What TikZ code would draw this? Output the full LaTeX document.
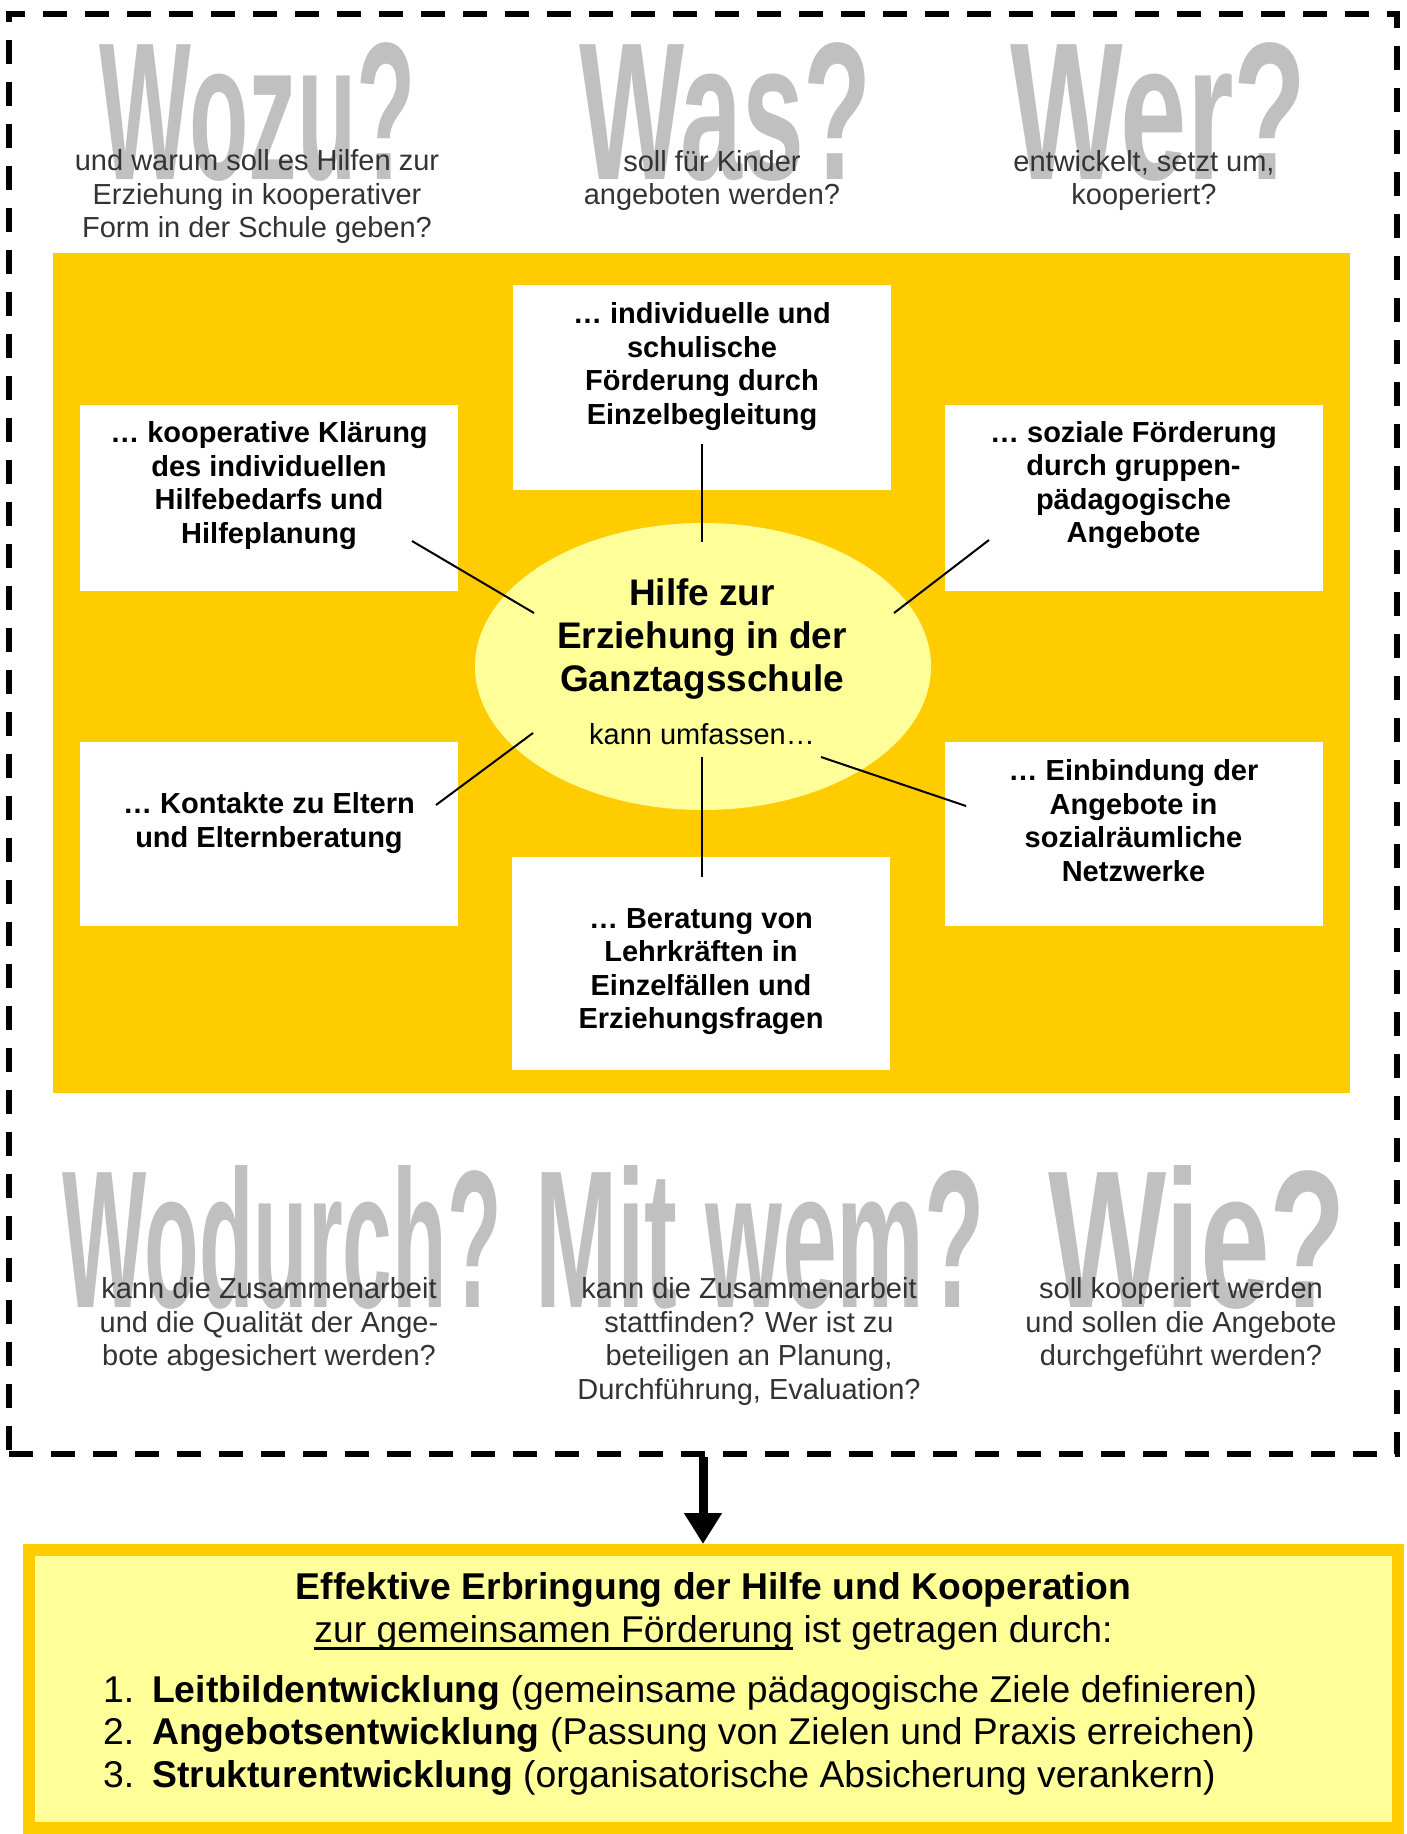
\documentclass[tikz,border=0pt]{standalone}
\usepackage{fontspec}
\setmainfont{Liberation Sans}
\usetikzlibrary{shapes.geometric,arrows.meta}

\definecolor{panelorange}{HTML}{FFCC00}
\definecolor{paleyellow}{HTML}{FFFF99}
\definecolor{watermark}{HTML}{C0C0C0}
\definecolor{questiontext}{HTML}{333333}

% underline set low, so that descenders cross the rule
\newcommand\ulword[1]{\setbox0=\hbox{#1}\rlap{\copy0}\rule[-8pt]{\wd0}{2.6pt}}

\begin{document}
\begin{tikzpicture}[x=1pt,y=-1pt,
  bigword/.style={anchor=base west, inner sep=0pt, text=watermark,
    font=\fontsize{196}{196}\selectfont\bfseries},
  question/.style={align=center, inner sep=0pt, text=questiontext,
    font=\fontsize{29}{33.5}\selectfont},
  whitebox/.style={fill=white, inner sep=0pt, minimum width=378pt},
  boxtext/.style={align=center, inner sep=0pt,
    font=\fontsize{29}{33.5}\selectfont\bfseries},
  spoke/.style={line width=2pt},
  listitem/.style={anchor=base west, inner sep=0pt,
    font=\fontsize{37.3}{43}\selectfont},
]
\useasboundingbox (0,0) rectangle (1407,1834);

% dashed frame around the question field
\node[draw, line width=6pt, dash pattern=on 24pt off 18pt, inner sep=0pt,
  minimum width=1388pt, minimum height=1440pt] (frame) at (703,733.5) {};

% large grey question words
\node[bigword] (w-wozu) at (99,179) {\scalebox{0.496}[1]{Wozu?}};
\node[bigword] (w-was) at (579,179) {\scalebox{0.568}[1]{Was?}};
\node[bigword] (w-wer) at (1010,179) {\scalebox{0.609}[1]{Wer?}};
\node[bigword] (w-wodurch) at (62,1307) {\scalebox{0.455}[1]{Wodurch?}};
\node[bigword] (w-mitwem) at (535,1307) {\scalebox{0.504}[1]{Mit wem?}};
\node[bigword] (w-wie) at (1048,1307) {\scalebox{0.639}[1]{Wie?}};

% explanatory questions
\node[question] (q-wozu) at (257,196.5) {und warum soll es Hilfen zur\\Erziehung in kooperativer\\Form in der Schule geben?};
\node[question] (q-was) at (712,180.5) {soll für Kinder\\angeboten werden?};
\node[question] (q-wer) at (1144,180.5) {entwickelt, setzt um,\\kooperiert?};
\node[question] (q-wodurch) at (269,1324.5) {kann die Zusammenarbeit\\und die Qualität der Ange-\\bote abgesichert werden?};
\node[question] (q-mitwem) at (749,1341.5) {kann die Zusammenarbeit\\stattfinden? Wer ist zu\\beteiligen an Planung,\\Durchführung, Evaluation?};
\node[question] (q-wie) at (1181,1324.5) {soll kooperiert werden\\und sollen die Angebote\\durchgeführt werden?};

% orange panel with the six offers
\node[fill=panelorange, inner sep=0pt, minimum width=1297pt, minimum height=840pt] (panel) at (701.5,673) {};

\node[whitebox, minimum height=205pt] (b-top) at (701.5,387.5) {};
\node[whitebox, minimum height=186pt] (b-ul) at (269,498) {};
\node[whitebox, minimum height=186pt] (b-ur) at (1133.5,498) {};
\node[whitebox, minimum height=184pt] (b-ll) at (268.5,834) {};
\node[whitebox, minimum height=184pt] (b-lr) at (1134,834) {};
\node[whitebox, minimum height=213pt] (b-bot) at (701,963.5) {};

\node[boxtext] (t-top) at (702,366.5) {… individuelle und\\schulische\\Förderung durch\\Einzelbegleitung};
\node[boxtext] (t-ul) at (269,485.5) {… kooperative Klärung\\des individuellen\\Hilfebedarfs und\\Hilfeplanung};
\node[boxtext] (t-ur) at (1133.5,485) {… soziale Förderung\\durch gruppen-\\pädagogische\\Angebote};
\node[boxtext] (t-ll) at (269,823) {… Kontakte zu Eltern\\und Elternberatung};
\node[boxtext] (t-lr) at (1133.5,820.5) {… Einbindung der\\Angebote in\\sozialräumliche\\Netzwerke};
\node[boxtext] (t-bot) at (701,971.5) {… Beratung von\\Lehrkräften in\\Einzelfällen und\\Erziehungsfragen};

% central ellipse
\node[ellipse, fill=paleyellow, inner sep=0pt, minimum width=456pt, minimum height=287pt] (hub) at (703,666.5) {};
\node[align=center, inner sep=0pt, font=\fontsize{37}{43}\selectfont\bfseries] (hub-title) at (702,639.5) {Hilfe zur\\Erziehung in der\\Ganztagsschule};
\node[inner sep=0pt, font=\fontsize{29}{33.5}\selectfont] (hub-sub) at (702,734) {kann umfassen…};

% spokes from the offers into the ellipse
\coordinate (s-top-a) at (702,444);  \coordinate (s-top-b) at (702,542);
\coordinate (s-ul-a) at (412,541);   \coordinate (s-ul-b) at (534,613);
\coordinate (s-ur-a) at (989,540);   \coordinate (s-ur-b) at (894,613);
\coordinate (s-ll-a) at (436,805);   \coordinate (s-ll-b) at (533,733);
\coordinate (s-lr-a) at (966,806);   \coordinate (s-lr-b) at (821,757);
\coordinate (s-bot-a) at (702,877);  \coordinate (s-bot-b) at (702,757);
\draw[spoke] (s-top-a) -- (s-top-b);
\draw[spoke] (s-ul-a) -- (s-ul-b);
\draw[spoke] (s-ur-a) -- (s-ur-b);
\draw[spoke] (s-ll-a) -- (s-ll-b);
\draw[spoke] (s-lr-a) -- (s-lr-b);
\draw[spoke] (s-bot-a) -- (s-bot-b);

% result box
\node[draw=panelorange, line width=12pt, fill=paleyellow, inner sep=0pt,
  minimum width=1369pt, minimum height=278pt] (result) at (713.5,1689) {};
\draw[line width=9pt, -{Triangle[length=31pt,width=36pt]}] (frame.south) -- (frame.south |- result.north);

\node[anchor=base, inner sep=0pt, font=\fontsize{37.3}{43}\selectfont\bfseries] (r-title) at (713.5,1599) {Effektive Erbringung der Hilfe und Kooperation};
\node[anchor=base, inner sep=0pt, font=\fontsize{37.3}{43}\selectfont] (r-sub) at (713.5,1642) {\ulword{zur gemeinsamen Förderung} ist getragen durch:};
\node[listitem] (r-1) at (103,1702) {\makebox[49pt][l]{1.}\textbf{Leitbildentwicklung} (gemeinsame pädagogische Ziele definieren)};
\node[listitem] (r-2) at (103,1744) {\makebox[49pt][l]{2.}\textbf{Angebotsentwicklung} (Passung von Zielen und Praxis erreichen)};
\node[listitem] (r-3) at (103,1787) {\makebox[49pt][l]{3.}\textbf{Strukturentwicklung} (organisatorische Absicherung verankern)};
\end{tikzpicture}
\end{document}
